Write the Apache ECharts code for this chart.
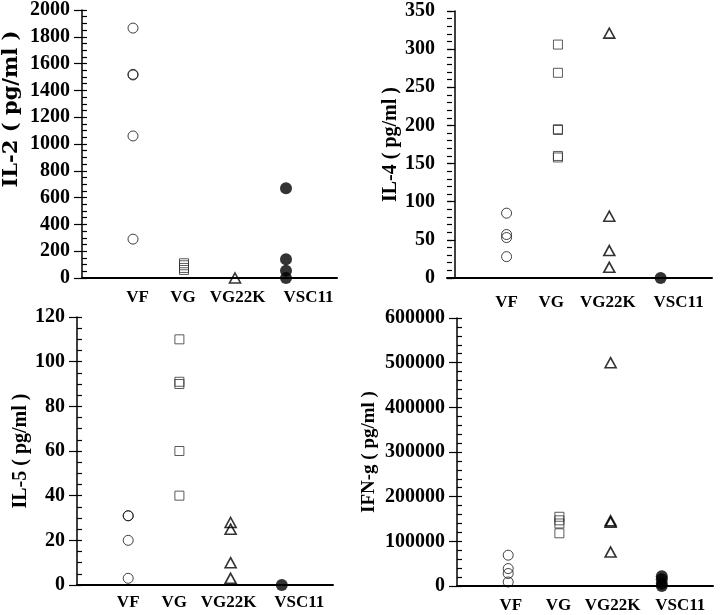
<!DOCTYPE html>
<html>
<head>
<meta charset="utf-8">
<script src="https://cdn.jsdelivr.net/npm/echarts@6/dist/echarts.min.js"></script>
<style>html,body{margin:0;padding:0;background:#fff}#c{width:720px;height:615px}</style>
</head>
<body>
<div id="c"></div>
<script>
// ---- data ----
const categories = ['VF', 'VG', 'VG22K', 'VSC11'];
const panelNames = ['IL-2 ( pg/ml )', 'IL-4 ( pg/ml )', 'IL-5 ( pg/ml )', 'IFN-g ( pg/ml )'];
const yMax = [2000, 350, 120, 600000];
const yStep = [200, 50, 20, 100000];
const yMinorStep = [50, 10, 5, 20000];

const il2_VF = [1865, 1520, 1515, 1060, 290];
const il2_VG = [110, 95, 75, 60];
const il2_VG22K = [0];
const il2_VSC11 = [670, 140, 55, 0];

const il4_VF = [85, 57, 53, 28];
const il4_VG = [306, 269, 195, 194, 160, 158];
const il4_VG22K = [321, 81, 36, 14];
const il4_VSC11 = [0];

const il5_VF = [31, 31, 20, 3];
const il5_VG = [110, 91, 90, 60, 40];
const il5_VG22K = [28, 25, 10, 3];
const il5_VSC11 = [0];

const ifn_VF = [69000, 39000, 28000, 9000];
const ifn_VG = [155000, 147000, 140000, 118000];
const ifn_VG22K = [500000, 146000, 143000, 76000];
const ifn_VSC11 = [22000, 15000, 5000, 0];

const panelData = [
  [il2_VF, il2_VG, il2_VG22K, il2_VSC11],
  [il4_VF, il4_VG, il4_VG22K, il4_VSC11],
  [il5_VF, il5_VG, il5_VG22K, il5_VSC11],
  [ifn_VF, ifn_VG, ifn_VG22K, ifn_VSC11]
];

// ---- layout / style ----
const grids = [
  {left: 80, top: 9, width: 257, height: 269},
  {left: 447, top: 11, width: 265, height: 267},
  {left: 77, top: 317, width: 256, height: 268},
  {left: 457, top: 318, width: 256, height: 268}
];
const xMin = [0, -0.16, 0, 0];
// where the category labels sit along the x scale (labels are offset from the marks in the original)
const labelPos = [
  [1.09, 1.98, 3.05, 4.44],
  [1.00, 1.87, 2.97, 4.35],
  [1.00, 1.90, 2.96, 4.34],
  [1.05, 1.98, 3.04, 4.36]
];
const labelMargin = [11, 16, 9, 11];
const nameGaps = [60, 42, 46, 78];
const nameSizes = [21, 20, 20, 19];
const nameFonts = ['"DejaVu Serif", serif', '"Liberation Serif", serif', '"Liberation Serif", serif', '"Liberation Serif", serif'];
const namePad = [[0, 0, 0, 70], 0, 0, 0];
const FONT = '"Liberation Serif", "Times New Roman", serif';

const groupStyles = [
  {symbol: 'circle', symbolSize: 10, itemStyle: {color: 'rgba(0,0,0,0)', borderColor: '#111', borderWidth: 1}},
  {symbol: 'rect', symbolSize: 9, itemStyle: {color: 'rgba(0,0,0,0)', borderColor: '#333', borderWidth: 1}},
  {symbol: 'triangle', symbolSize: [11, 10], itemStyle: {color: 'rgba(0,0,0,0)', borderColor: '#000', borderWidth: 1.6}},
  {symbol: 'circle', symbolSize: 12, itemStyle: {color: '#000', borderColor: '#000', borderWidth: 0}}
];

const option = {
  backgroundColor: '#fff',
  animation: false,
  grid: grids,
  xAxis: [],
  yAxis: [],
  series: []
};

for (let p = 0; p < 4; p++) {
  const lp = labelPos[p];
  option.xAxis.push({
    type: 'value', gridIndex: p, min: xMin[p], max: 5,
    axisLine: {show: true, onZero: false, lineStyle: {color: '#000', width: 2}},
    axisTick: {show: false},
    splitLine: {show: false},
    axisLabel: {
      show: true, customValues: lp, margin: labelMargin[p],
      showMinLabel: true, showMaxLabel: true, hideOverlap: false,
      formatter: v => {
        let best = 0;
        for (let i = 1; i < lp.length; i++) if (Math.abs(lp[i] - v) < Math.abs(lp[best] - v)) best = i;
        return categories[best];
      },
      color: '#000', fontFamily: FONT, fontWeight: 'bold', fontSize: 17
    }
  });
  // main y axis: line, outward major ticks, labels, name
  option.yAxis.push({
    type: 'value', gridIndex: p, position: 'left', min: 0, max: yMax[p], interval: yStep[p],
    name: panelNames[p], nameLocation: 'middle', nameGap: nameGaps[p], nameRotate: 90,
    nameTextStyle: {color: '#000', fontFamily: nameFonts[p], fontWeight: 'bold', fontSize: nameSizes[p], padding: namePad[p]},
    axisLine: {show: true, lineStyle: {color: '#000', width: 1.5}},
    axisTick: {show: true, length: 8, lineStyle: {color: '#000', width: 1.2}},
    splitLine: {show: false},
    axisLabel: {margin: 12, color: '#000', fontFamily: FONT, fontWeight: 'bold', fontSize: 20, formatter: v => String(v)}
  });
  // companion y axis: small inward ticks only
  option.yAxis.push({
    type: 'value', gridIndex: p, position: 'left', offset: 0, min: 0, max: yMax[p], interval: yMinorStep[p],
    axisLine: {show: false},
    axisTick: {show: true, inside: true, length: 5, lineStyle: {color: '#000', width: 1.2}},
    axisLabel: {show: false},
    splitLine: {show: false}
  });
  for (let g = 0; g < 4; g++) {
    const st = groupStyles[g];
    option.series.push({
      type: 'scatter', xAxisIndex: p, yAxisIndex: p * 2,
      name: categories[g],
      symbol: st.symbol, symbolSize: st.symbolSize, itemStyle: st.itemStyle,
      clip: false,
      data: panelData[p][g].map(v => [g + 1, v])
    });
  }
}

const chart = echarts.init(document.getElementById('c'), null, {renderer: 'canvas'});
chart.setOption(option);
</script>
</body>
</html>
